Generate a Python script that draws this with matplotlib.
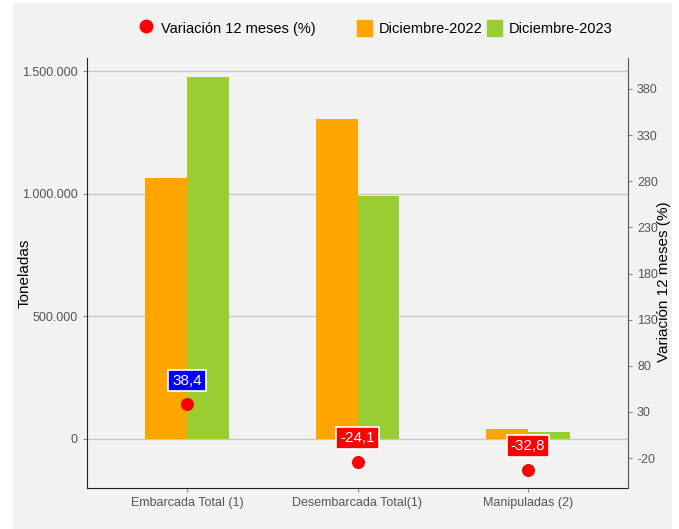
import matplotlib.pyplot as plt
from matplotlib.patches import Rectangle
from matplotlib.lines import Line2D
from matplotlib.ticker import FuncFormatter

plt.rcParams['font.family'] = ['Liberation Sans Narrow', 'Liberation Sans', 'DejaVu Sans']
plt.rcParams['axes.unicode_minus'] = False

categorias = ['Embarcada Total (1)', 'Desembarcada Total(1)', 'Manipuladas (2)']
dic_2022 = [1065000, 1305000, 42000]
dic_2023 = [1475000, 990000, 28200]
variacion = [38.4, -24.1, -32.8]

c_2022 = '#ffa500'
c_2023 = '#9acd32'
bg = '#f2f2f2'

fig = plt.figure(figsize=(6.79, 5.29), dpi=100)
fig.patch.set_facecolor('white')
fig.add_artist(Rectangle((13 / 679, 0), 659 / 679, 526 / 529, transform=fig.transFigure,
                         facecolor=bg, edgecolor='none', zorder=-10))

ax = fig.add_axes([87 / 679, 1 - 488 / 529, 541 / 679, 430 / 529])
ax.set_facecolor(bg)
x = range(len(categorias))
w = 0.246
ax.bar([i - w / 2 for i in x], dic_2022, width=w, color=c_2022, zorder=2)
ax.bar([i + w / 2 for i in x], dic_2023, width=w, color=c_2023, zorder=2)
ax.set_xlim(-0.586, 2.586)
ax.set_ylim(-200000, 1553000)
ax.set_yticks([0, 500000, 1000000, 1500000])
ax.yaxis.set_major_formatter(FuncFormatter(lambda v, p: f'{int(v):,}'.replace(',', '.')))
ax.grid(axis='y', color='#c8c8c8', linewidth=1, zorder=0)
ax.set_xticks(list(x))
ax.set_xticklabels(categorias, fontsize=9, color='#555555')
ax.tick_params(axis='y', labelsize=9, labelcolor='#555555', color='#888888', length=3)
ax.tick_params(axis='x', color='#888888', length=3)
ax.set_ylabel('Toneladas', fontsize=11)
ax.yaxis.set_label_coords(-0.103, 0.5)
for s in ['top', 'right']:
    ax.spines[s].set_visible(False)
ax.spines['left'].set_color('#222222')
ax.spines['bottom'].set_color('#222222')

ax2 = ax.twinx()
ax2.set_ylim(-52.5, 413.6)
ax2.set_yticks([-20, 30, 80, 130, 180, 230, 280, 330, 380])
ax2.scatter(list(x), variacion, color='red', s=70, zorder=5)
for i, v in enumerate(variacion):
    ax2.annotate(f'{v:.1f}'.replace('.', ','), (i, v), xytext=(0, 17), textcoords='offset points',
                 ha='center', va='center', color='white', fontsize=11,
                 bbox=dict(boxstyle='square,pad=0.25', facecolor='blue' if v > 0 else 'red',
                           edgecolor='white', linewidth=1.2))
ax2.tick_params(axis='y', labelsize=9, labelcolor='#555555', color='#888888', length=3)
ax2.set_ylabel('Variación 12 meses (%)', fontsize=11)
ax2.yaxis.set_label_coords(1.053, 0.48)
for s in ['top', 'left', 'bottom']:
    ax2.spines[s].set_visible(False)
ax2.spines['right'].set_color('#555555')

handles = [
    Line2D([], [], marker='o', color='red', linestyle='none', markersize=9),
    Rectangle((0, 0), 1, 1, color=c_2022),
    Rectangle((0, 0), 1, 1, color=c_2023),
]
labels = ['Variación 12 meses (%)         ', 'Diciembre-2022', 'Diciembre-2023']
fig.legend(handles, labels, loc='center', bbox_to_anchor=(376 / 679, 1 - 28 / 529), ncol=3,
           frameon=False, fontsize=10.5, handlelength=1.0, handleheight=1.4, handletextpad=0.5,
           columnspacing=0.3)

fig.savefig('out.png', dpi=100, facecolor=fig.get_facecolor())
